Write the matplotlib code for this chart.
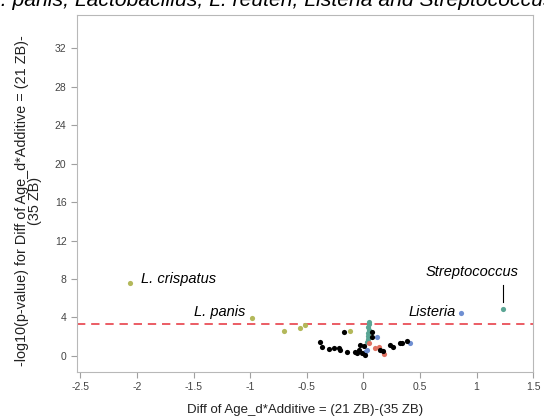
import matplotlib
matplotlib.use("Agg")
import matplotlib.pyplot as plt

plt.rcParams['font.family'] = ['Liberation Sans', 'DejaVu Sans']

# points grouped by colour (x = difference, y = -log10 p)
olive_x = [-2.06, -0.985, -0.705, -0.558, -0.513, -0.115]
olive_y = [7.6, 3.9, 2.64, 2.95, 3.23, 2.64]

teal_x = [0.047, 0.05, 0.045, 0.05, 0.04, 0.045, 0.04, 0.035, 1.23]
teal_y = [3.57, 3.3, 3.0, 2.7, 2.4, 2.1, 1.8, 1.5, 4.93]

blue_x = [0.121, 0.416, 0.018, 0.03, 0.867]
blue_y = [1.94, 1.39, 0.45, 0.6, 4.45]

red_x = [0.106, 0.135, 0.18, 0.047]
red_y = [0.87, 0.97, 0.21, 1.3]

black_x = [-0.174, -0.387, -0.366, -0.307, -0.263, -0.219, -0.21, -0.144,
           -0.071, -0.056, -0.041, -0.012, 0.018, -0.027, 0.003, 0.077,
           0.077, 0.15, 0.174, 0.239, 0.263, 0.327, 0.342, 0.39]
black_y = [2.53, 1.49, 0.9, 0.73, 0.8, 0.87, 0.63, 0.38,
           0.45, 0.28, 0.63, 0.28, 0.1, 1.15, 1.04, 2.53,
           2.0, 0.63, 0.55, 1.15, 0.97, 1.32, 1.32, 1.6]

threshold = 3.3
xticks = [-2.5, -2, -1.5, -1, -0.5, 0, 0.5, 1, 1.5]
xticklabels = ['-2.5', '-2', '-1.5', '-1', '-0.5', '0', '0.5', '1', '1.5']
yticks = [0, 4, 8, 12, 16, 20, 24, 28, 32]

title_head = 'L. crispatus, L. panis, '
title_tail = 'Lactobacillus, L. reuteri, Listeria and Streptococcus'

fig = plt.figure(figsize=(5.44, 4.18), dpi=100)
ax = fig.add_axes([0.1415, 0.11, 0.8385, 0.853])

ax.axhline(threshold, color='#e8414a', linestyle=(0, (5, 3.5)), linewidth=1.2, zorder=1)

ax.scatter(olive_x, olive_y, s=14, color='#b3b85a', zorder=3, linewidths=0)
ax.scatter(teal_x, teal_y, s=14, color='#5aa594', zorder=3, linewidths=0)
ax.scatter(blue_x, blue_y, s=14, color='#6f8fd2', zorder=3, linewidths=0)
ax.scatter(red_x, red_y, s=14, color='#e07262', zorder=3, linewidths=0)
ax.scatter(black_x, black_y, s=14, color='black', zorder=4, linewidths=0)

# labels of the named taxa
ax.text(-1.96, 8.0, 'L. crispatus', style='italic', fontsize=10.5, va='center', ha='left')
ax.text(-1.044, 4.6, 'L. panis', style='italic', fontsize=10.5, va='center', ha='right')
ax.text(0.814, 4.55, 'Listeria', style='italic', fontsize=10.5, va='center', ha='right')
ax.text(0.957, 8.68, 'Streptococcus', style='italic', fontsize=10.5, va='center', ha='center')
ax.plot([1.233, 1.233], [5.66, 7.4], color='black', linewidth=0.8)

ax.set_xlim(-2.53, 1.5)
ax.set_ylim(-1.67, 35.4)
ax.set_xticks(xticks)
ax.set_xticklabels(xticklabels)
ax.set_yticks(yticks)

for s in ax.spines.values():
    s.set_color('#b8b8b8')
ax.tick_params(colors='#a0a0a0', labelcolor='#444444', labelsize=7.5, length=4, width=0.8)

ax.set_xlabel('Diff of Age_d*Additive = (21 ZB)-(35 ZB)', fontsize=9.5, color='#222222', labelpad=8)
ax.set_ylabel('-log10(p-value) for Diff of Age_d*Additive = (21 ZB)-\n(35 ZB)',
              fontsize=10.4, color='#222222', labelpad=9, linespacing=0.9)
ax.yaxis.label.set_y(0.48)

# title, cut off by the top edge of the image; place it so that
# "Lactobacillus" starts where it does in the source picture
probe = fig.text(0, 0, title_head, style='italic', fontsize=15.2)
head_w = probe.get_window_extent(renderer=fig.canvas.get_renderer()).width
probe.remove()
fig.text((75 - head_w) / 544, 1 - 6 / 418, title_head + title_tail,
         style='italic', fontsize=15.2, ha='left', va='baseline')

fig.savefig('out.png', dpi=100)
